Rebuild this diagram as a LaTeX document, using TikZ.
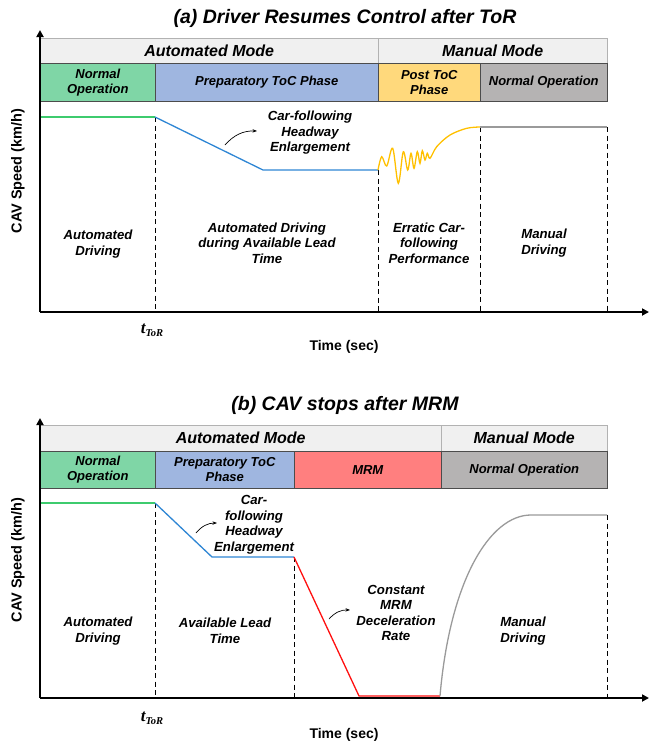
\documentclass[tikz,border=0pt]{standalone}
\usepackage{fontspec}
\setmainfont{Liberation Sans}
\newfontfamily\torfont{Liberation Serif}
\usetikzlibrary{arrows.meta}
\definecolor{hdr}{HTML}{F0F0F0}
\definecolor{cgreen}{HTML}{7FD6A6}
\definecolor{cblue}{HTML}{9FB6E0}
\definecolor{cyellow}{HTML}{FFD97C}
\definecolor{cgrey}{HTML}{B5B3B3}
\definecolor{cred}{HTML}{FF7F7F}
\definecolor{lgreen}{HTML}{3DCB6E}
\definecolor{lblue}{HTML}{2E86D4}
\definecolor{lyellow}{HTML}{FFC000}
\definecolor{lred}{HTML}{FF1010}
\definecolor{lgrey}{HTML}{9A9A9A}
\newcommand{\tormark}{{\fontsize{17}{18}\selectfont t}\raisebox{-3pt}{\fontsize{10.5}{11}\selectfont ToR}}
\tikzset{
  hdrcell/.style={draw=black!30, fill=hdr, anchor=north west, inner sep=0pt, font=\fontsize{16}{18}\selectfont\bfseries\itshape},
  phcell/.style={draw=black!70, line width=0.6pt, anchor=north west, inner sep=0pt, align=center, font=\fontsize{13}{15}\selectfont\bfseries\itshape},
  txt/.style={align=center, inner sep=0pt, font=\fontsize{13.2}{15.5}\selectfont\bfseries\itshape},
  ttl/.style={font=\fontsize{19.5}{22}\selectfont\bfseries\itshape},
  axlabel/.style={font=\fontsize{14}{16}\selectfont\bfseries},
  guide/.style={dash pattern=on 5pt off 3.5pt, line width=0.8pt},
  axisline/.style={line width=1.8pt, -{Triangle[length=7pt,width=7pt]}},
  hint/.style={-{Stealth[length=4.5pt]}, line width=0.7pt},
  curve/.style={line width=1.3pt},
  tor/.style={font=\torfont\bfseries\itshape, inner sep=0pt}
}
\begin{document}
\begin{tikzpicture}[x=1pt,y=-1pt]
\useasboundingbox (0,0) rectangle (650,742);
% ================= Panel (a) =================
\node[ttl] (ttlA) at (345,18) {(a) Driver Resumes Control after ToR};
\node[hdrcell, minimum width=338pt, minimum height=25pt] (amA) at (40,38) {Automated Mode};
\node[hdrcell, minimum width=229pt, minimum height=25pt] (mmA) at (378,38) {Manual Mode};
\node[phcell, fill=cgreen, minimum width=115pt, minimum height=38pt] (p1A) at (40,63) {Normal\\Operation};
\node[phcell, fill=cblue, minimum width=223pt, minimum height=38pt] (p2A) at (155,63) {Preparatory ToC Phase};
\node[phcell, fill=cyellow, minimum width=102pt, minimum height=38pt] (p3A) at (378,63) {Post ToC\\Phase};
\node[phcell, fill=cgrey, minimum width=127pt, minimum height=38pt] (p4A) at (480,63) {Normal Operation};

\coordinate (oA) at (40,312);
\coordinate (yA) at (40,30);
\coordinate (xA) at (649,312);
\coordinate (a0) at (40,117);
\coordinate (a1) at (155,117);
\coordinate (a2) at (263,170);
\coordinate (a3) at (378,170);
\coordinate (a4) at (480,127);
\coordinate (a5) at (607,127);

\draw[guide] (a1) -- (a1 |- oA);
\draw[guide] (a3) -- (a3 |- oA);
\draw[guide] (a4) -- (a4 |- oA);
\draw[guide] (a5) -- (a5 |- oA);

\draw[curve, lgreen] (a0) -- (a1);
\draw[curve, lblue] (a1) -- (a2) -- (a3);
\draw[curve, lyellow] plot[smooth, tension=0.55] coordinates {(a3) (381.7,156.7) (386.7,166) (392.7,148.3) (398.3,183.3) (403.3,151.7) (407.7,170) (411,153.3) (414,168.3) (417.3,151.7) (420,163.3) (422.3,150.7) (425,160) (427.3,153.3) (430,158.3) (436.7,146.7) (450,135) (466.7,128.3) (a4)};
\draw[curve, lgrey] (a4) -- (a5);

\draw[axisline] (oA) -- (yA);
\draw[axisline] (oA) -- (xA);

\node[txt] (t1A) at (98,244) {Automated\\Driving};
\node[txt] (t2A) at (267,243) {Automated Driving\\during Available Lead\\Time};
\node[txt] (t3A) at (429,243) {Erratic Car-\\following\\Performance};
\node[txt] (t4A) at (544,243) {Manual\\Driving};
\node[txt] (hwA) at (310,133) {Car-following\\Headway\\Enlargement};
\coordinate (hsA) at (225,145);
\coordinate (heA) at (257,131);
\draw[hint] (hsA) to[bend left=25] (heA);

\node[axlabel, rotate=90, font=\fontsize{14.5}{16}\selectfont\bfseries] (ylA) at (18,171) {CAV Speed (km/h)};
\node[tor] (tA) at (152,330) {\tormark};
\node[axlabel] (tlA) at (344,347) {Time (sec)};

% ================= Panel (b) =================
\node[ttl] (ttlB) at (345,405) {(b) CAV stops after MRM};
\node[hdrcell, minimum width=401pt, minimum height=26pt] (amB) at (40,425) {Automated Mode};
\node[hdrcell, minimum width=166pt, minimum height=26pt] (mmB) at (441,425) {Manual Mode};
\node[phcell, fill=cgreen, minimum width=115pt, minimum height=37pt] (p1B) at (40,451) {Normal\\Operation};
\node[phcell, fill=cblue, minimum width=139pt, minimum height=37pt] (p2B) at (155,451) {Preparatory ToC\\Phase};
\node[phcell, fill=cred, minimum width=147pt, minimum height=37pt] (p3B) at (294,451) {MRM};
\node[phcell, fill=cgrey, minimum width=166pt, minimum height=37pt] (p4B) at (441,451) {Normal Operation};

\coordinate (oB) at (40,698);
\coordinate (yB) at (40,418);
\coordinate (xB) at (649,698);
\coordinate (b0) at (40,503);
\coordinate (b1) at (155,503);
\coordinate (b2) at (212,557);
\coordinate (b3) at (294,557);
\coordinate (b4) at (359,696);
\coordinate (b5) at (440,696);
\coordinate (b6) at (531,515);
\coordinate (b7) at (607,515);

\draw[guide] (b1) -- (b1 |- oB);
\draw[guide] (b3) -- (b3 |- oB);
\draw[guide] (b7) -- (b7 |- oB);

\draw[curve, lgreen] (b0) -- (b1);
\draw[curve, lblue] (b1) -- (b2) -- (b3);
\draw[curve, lred] (b3) -- (b4) -- (b5);
\draw[curve, lgrey] (b5) .. controls (450,580) and (490,515) .. (b6) -- (b7);

\draw[axisline] (oB) -- (yB);
\draw[axisline] (oB) -- (xB);

\node[txt] (t1B) at (98,631) {Automated\\Driving};
\node[txt] (t2B) at (225,631) {Available Lead\\Time};
\node[txt] (t3B) at (396,613) {Constant\\MRM\\Deceleration\\Rate};
\node[txt] (t4B) at (523,631) {Manual\\Driving};
\node[txt] (hwB) at (254,525) {Car-\\following\\Headway\\Enlargement};
\coordinate (hsB) at (196,533);
\coordinate (heB) at (217,523);
\draw[hint] (hsB) to[bend left=25] (heB);
\coordinate (msB) at (329,619);
\coordinate (meB) at (350,610);
\draw[hint] (msB) to[bend left=25] (meB);

\node[axlabel, rotate=90, font=\fontsize{14.5}{16}\selectfont\bfseries] (ylB) at (18,560) {CAV Speed (km/h)};
\node[tor] (tB) at (152,718) {\tormark};
\node[axlabel] (tlB) at (344,735) {Time (sec)};
\end{tikzpicture}
\end{document}
